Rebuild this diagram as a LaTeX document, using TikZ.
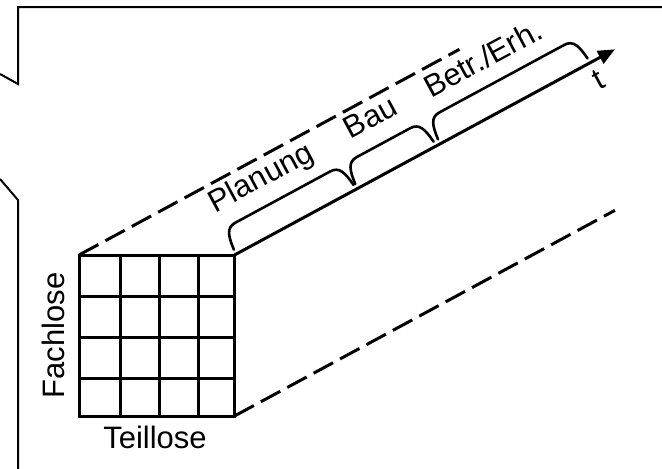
\documentclass[tikz,border=0pt]{standalone}
\usepackage{fontspec}
\setmainfont{Liberation Sans}
\usetikzlibrary{calc,arrows.meta}
\begin{document}
\begin{tikzpicture}[x=1pt,y=-1pt,
  lbl/.style={font=\fontsize{31}{36}\selectfont, inner sep=0pt},
  frame/.style={line width=2pt},
  gridline/.style={line width=3pt},
  axisline/.style={line width=3pt, -{Triangle[length=17pt,width=14pt]}},
  dashline/.style={line width=3pt, dash pattern=on 22pt off 8pt},
  bracket/.style={line width=2.6pt, line cap=round}]
\useasboundingbox (0,0) rectangle (662,469);
% frame
\draw[frame] (662,7) -- (18,7) -- (18,84) -- (0,74);
\draw[frame] (0,179) -- (18,200) -- (18,469);
% grid corners
\coordinate (tl) at (79,255);
\coordinate (tr) at (234.5,255);
\coordinate (bl) at (79,416);
\coordinate (br) at (234.5,416);
\coordinate (tlD) at ($(tl)+(380.5,-205.7)$);
\coordinate (tend) at ($(tr)+(380.5,-205.7)$);
\coordinate (brD) at ($(br)+(380.5,-205.7)$);
% grid
\foreach \cx in {120,159.3,198} \draw[gridline] (\cx,255) -- (\cx,416);
\foreach \ry in {296.7,337.3,378} \draw[gridline] (79,\ry) -- (234.5,\ry);
\draw[gridline] (tl) rectangle (br);
% depth lines
\draw[dashline] (tl) -- (tlD);
\draw[dashline] (br) -- (brD);
\draw[axisline] (tr) -- (tend);
% axis labels
\node[lbl, rotate=90, anchor=base] (fach) at (64,335.5) {Fachlose};
\node[lbl, anchor=base] (teil) at (155,448) {Teillose};
% along-axis frame
\begin{scope}[shift={(234.5pt,-255pt)}, x={(0.8798pt,0.4756pt)}, y={(-0.4756pt,0.8798pt)}]
  \foreach \a/\b in {2/138, 140/229, 234/404}
    \draw[bracket] (\a,5) .. controls ({\a+1.5},20) and ({\a+4},28) .. ({\a+14},28)
       -- ({\b-14},28) .. controls ({\b-4},28) and ({\b-1.5},20) .. (\b,5);
  \node[lbl, rotate=28.39, anchor=base west] (plan) at (3,46) {Planung};
  \node[lbl, rotate=28.39, anchor=base west] (bau) at (157,46) {Bau};
  \node[lbl, rotate=28.39, anchor=base west] (betr) at (247,44) {Betr./Erh.};
  \node[lbl, rotate=28.39] (t) at (403,-19) {t};
\end{scope}
\end{tikzpicture}
\end{document}
